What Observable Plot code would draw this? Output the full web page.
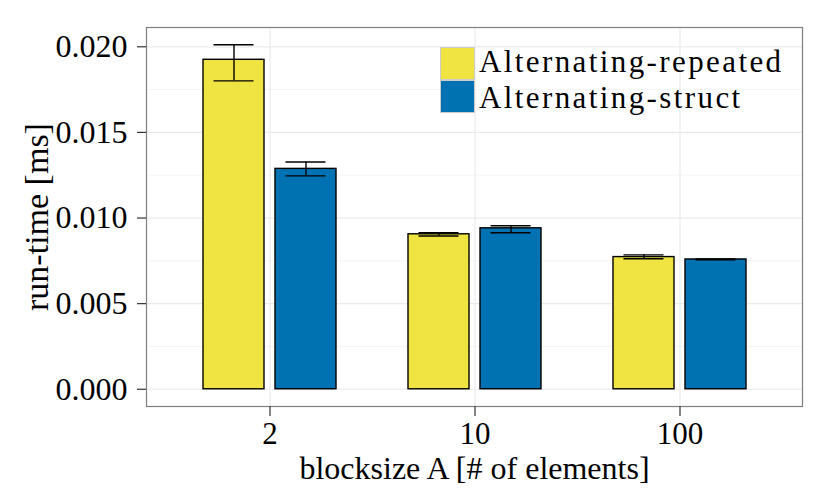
<!DOCTYPE html>
<html>
<head>
<meta charset="utf-8">
<script src="https://cdn.jsdelivr.net/npm/d3@7"></script>
<script src="https://cdn.jsdelivr.net/npm/@observablehq/plot@0.6"></script>
<style>
  body { margin: 0; background: #fff; }
  #wrap { position: relative; width: 830px; height: 498px; font-family: "Liberation Serif", "DejaVu Serif", serif; }
  .sw { position: absolute; left: 440px; width: 35px; height: 33px; border: 1px solid #cccccc; box-sizing: border-box; }
  .lt { position: absolute; left: 479px; font-size: 31px; letter-spacing: 2.4px; line-height: 31px; color: #000; white-space: nowrap; }
</style>
</head>
<body>
<div id="wrap"></div>
<script>
const blocksizes = ["2", "10", "100"];
const seriesNames = ["Alternating-repeated", "Alternating-struct"];
const colors = ["#F0E442", "#0072B2"];
const repeatedMean = [0.01924, 0.00905, 0.00772];
const repeatedLo   = [0.01801, 0.00895, 0.00762];
const repeatedHi   = [0.02012, 0.00914, 0.00785];
const structMean   = [0.01287, 0.00940, 0.00758];
const structLo     = [0.01246, 0.00914, 0.00756];
const structHi     = [0.01327, 0.00955, 0.00761];
const yTicks = [0, 0.005, 0.010, 0.015, 0.020];
const yMinorTicks = [0.0025, 0.0075, 0.0125, 0.0175];

const rows = [];
blocksizes.forEach((b, i) => {
  rows.push({block: b, series: seriesNames[0], value: repeatedMean[i], lo: repeatedLo[i], hi: repeatedHi[i]});
  rows.push({block: b, series: seriesNames[1], value: structMean[i], lo: structLo[i], hi: structHi[i]});
});
const rep = rows.filter(d => d.series === seriesNames[0]);
const str = rows.filter(d => d.series === seriesNames[1]);

// layout
const W = 830, H = 498, mL = 146, mR = 28, mT = 27, mB = 92;
const band = (W - mL - mR) / 3.2;   // band step (paddingOuter 0.1, inner 0)
const off = 36, barW = 61, capW = 40;
const half = band / 2;
const barInL = half - off - barW / 2, barInR = band - barInL - barW;
const capInL = half - off - capW / 2, capInR = band - capInL - capW;

const ymax = 0.02012, ymin = 0;
const pad = (ymax - ymin) * 0.05;

const chart = Plot.plot({
  width: W, height: H,
  marginLeft: mL, marginRight: mR, marginTop: mT, marginBottom: mB,
  style: {fontFamily: "'Liberation Serif', 'DejaVu Serif', serif", fontSize: "32px", color: "#000", background: "#fff"},
  x: {type: "band", domain: blocksizes, paddingInner: 0, paddingOuter: 0.1, axis: null},
  y: {domain: [ymin - pad, ymax + pad], axis: null},
  marks: [
    Plot.gridY(yMinorTicks, {stroke: "#f5f5f5", strokeOpacity: 1, strokeWidth: 1}),
    Plot.gridY(yTicks, {stroke: "#ebebeb", strokeOpacity: 1, strokeWidth: 1.2}),
    Plot.gridX(blocksizes, {stroke: "#ebebeb", strokeOpacity: 1, strokeWidth: 1.2}),
    Plot.barY(rep, {x: "block", y1: 0, y2: "value", fill: colors[0], stroke: "#000", strokeWidth: 1.4, insetLeft: barInL, insetRight: barInR}),
    Plot.barY(str, {x: "block", y1: 0, y2: "value", fill: colors[1], stroke: "#000", strokeWidth: 1.4, insetLeft: barInR, insetRight: barInL}),
    Plot.ruleX(rep, {x: "block", y1: "lo", y2: "hi", dx: -off, stroke: "#000", strokeWidth: 1.4}),
    Plot.ruleX(str, {x: "block", y1: "lo", y2: "hi", dx: off, stroke: "#000", strokeWidth: 1.4}),
    Plot.tickY(rep, {x: "block", y: "hi", insetLeft: capInL, insetRight: capInR, stroke: "#000", strokeWidth: 1.4}),
    Plot.tickY(rep, {x: "block", y: "lo", insetLeft: capInL, insetRight: capInR, stroke: "#000", strokeWidth: 1.4}),
    Plot.tickY(str, {x: "block", y: "hi", insetLeft: capInR, insetRight: capInL, stroke: "#000", strokeWidth: 1.4}),
    Plot.tickY(str, {x: "block", y: "lo", insetLeft: capInR, insetRight: capInL, stroke: "#000", strokeWidth: 1.4}),
    Plot.frame({stroke: "#7f7f7f", strokeWidth: 1.2}),
    Plot.axisY(yTicks, {tickSize: 9, tickPadding: 10, tickFormat: d3.format(".3f"), stroke: "#333", strokeWidth: 1.2, fill: "#000", fontSize: 32, label: null}),
    Plot.axisX(blocksizes, {tickSize: 10, tickPadding: 5, stroke: "#333", strokeWidth: 1.2, fill: "#000", fontSize: 31, label: null}),
    Plot.text(["blocksize A [# of elements]"], {frameAnchor: "bottom", dy: 62, fontSize: 32, fill: "#000", textAnchor: "middle", lineAnchor: "middle"}),
    Plot.text(["run-time [ms]"], {frameAnchor: "left", dx: -109, rotate: -90, fontSize: 34, fill: "#000", textAnchor: "middle", lineAnchor: "middle"})
  ]
});
const wrap = document.getElementById("wrap");
wrap.appendChild(chart);

seriesNames.forEach((name, i) => {
  const sw = document.createElement("div");
  sw.className = "sw";
  sw.style.top = (47 + i * 33) + "px";
  sw.style.background = colors[i];
  wrap.appendChild(sw);
  const t = document.createElement("div");
  t.className = "lt";
  t.style.top = (47 + i * 36 - 1) + "px";
  t.textContent = name;
  wrap.appendChild(t);
});
</script>
</body>
</html>
